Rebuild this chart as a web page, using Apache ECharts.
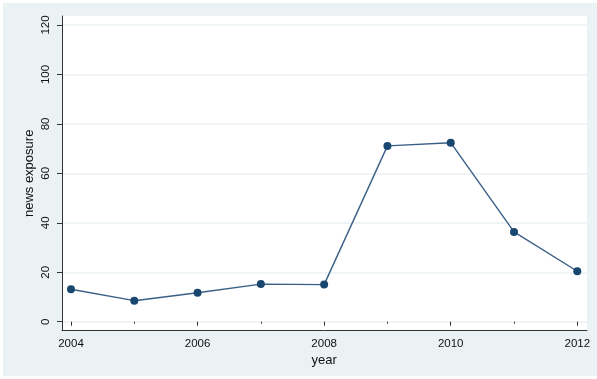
<!DOCTYPE html>
<html>
<head>
<meta charset="utf-8">
<script src="https://cdn.jsdelivr.net/npm/echarts@6/dist/echarts.min.js"></script>
<style>
html,body{margin:0;padding:0;background:#fff;}
#chart{width:597px;height:379px;}
</style>
</head>
<body>
<div id="chart"></div>
<script>
const years = [2004, 2005, 2006, 2007, 2008, 2009, 2010, 2011, 2012];
const newsExposure = [13.1, 8.5, 11.7, 15.2, 15.0, 71.1, 72.4, 36.3, 20.4];
const xTickLabels = [2004, 2006, 2008, 2010, 2012];
const yTickLabels = [0, 20, 40, 60, 80, 100, 120];

const chart = echarts.init(document.getElementById('chart'), null, {renderer: 'canvas'});
const font = 'Liberation Sans, Arial, Helvetica, sans-serif';
const bg = '#eaf2f3';
const axisCol = '#333';

const option = {
  animation: false,
  backgroundColor: '#ffffff',
  graphic: [{
    type: 'rect', z: -10, silent: true,
    shape: {x: 3, y: 3, width: 594, height: 373},
    style: {fill: bg}
  }],
  grid: [
    {left: 62, right: 10, top: 16, bottom: 49, show: true, backgroundColor: '#ffffff', borderWidth: 0},
    {left: 62, right: 10, top: 25, bottom: 57.3},
    {left: 71, right: 19.7, top: 25, bottom: 57.3}
  ],
  xAxis: [
    {gridIndex: 0, type: 'value', min: 0, max: 1, axisLine: {show: true, lineStyle: {color: axisCol, width: 1}},
     axisTick: {show: false}, axisLabel: {show: false}, splitLine: {show: false}},
    {gridIndex: 1, type: 'value', min: 0, max: 1, show: false},
    {gridIndex: 2, type: 'value', min: xTickLabels[0], max: xTickLabels[xTickLabels.length - 1], interval: 2,
     position: 'bottom', offset: 8.3,
     axisLine: {show: false},
     axisTick: {show: true, length: 4, lineStyle: {color: axisCol}},
     minorTick: {show: true, splitNumber: 2, length: 2, lineStyle: {color: axisCol}},
     splitLine: {show: false},
     axisLabel: {margin: 8, color: '#111', fontSize: 11.5, fontFamily: font, formatter: v => String(v)},
     name: 'year', nameLocation: 'middle', nameGap: 24, nameMoveOverlap: false,
     nameTextStyle: {color: '#111', fontSize: 13, fontFamily: font}}
  ],
  yAxis: [
    {gridIndex: 0, type: 'value', min: 0, max: 1, axisLine: {show: true, lineStyle: {color: axisCol, width: 1}},
     axisTick: {show: false}, axisLabel: {show: false}, splitLine: {show: false}},
    {gridIndex: 1, type: 'value', min: yTickLabels[0], max: yTickLabels[yTickLabels.length - 1], interval: 20,
     position: 'left',
     axisLine: {show: false},
     axisTick: {show: true, length: 5, lineStyle: {color: axisCol}},
     splitLine: {show: true, lineStyle: {color: bg, width: 1.5}},
     axisLabel: {margin: 10, rotate: 90, color: '#111', fontSize: 11.5, fontFamily: font},
     name: 'news exposure', nameLocation: 'middle', nameGap: 26, nameRotate: 90, nameMoveOverlap: false,
     nameTextStyle: {color: '#111', fontSize: 13, fontFamily: font}},
    {gridIndex: 2, type: 'value', min: 0, max: 120, show: false}
  ],
  series: [{
    type: 'line',
    xAxisIndex: 2, yAxisIndex: 2,
    data: years.map((y, i) => [y, newsExposure[i]]),
    clip: false,
    symbol: 'circle', symbolSize: 8,
    lineStyle: {color: '#3a5f86', width: 1.4},
    itemStyle: {color: '#1a476f'}
  }]
};
chart.setOption(option);
</script>
</body>
</html>
